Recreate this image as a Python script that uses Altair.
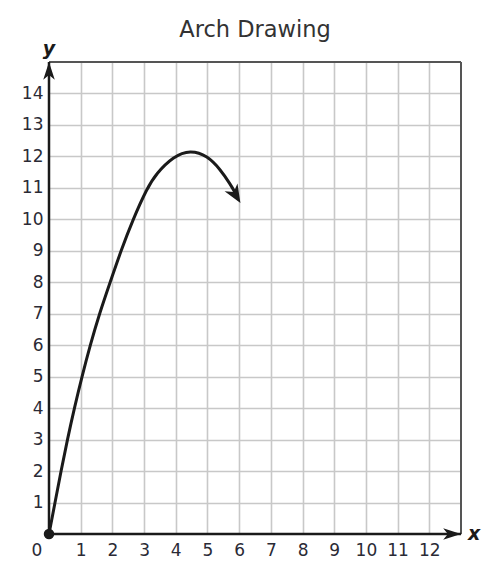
import altair as alt
import pandas as pd

# ---- data ----
curve_x = [0, 0.19, 0.38, 0.58, 0.80, 1.04, 1.30, 1.59, 1.93, 2.27, 2.65, 3.10, 3.38, 3.92, 4.46, 5.00, 5.41, 5.72, 5.90]
curve_y = [0, 1, 2, 3, 4, 5, 6, 7, 8, 9, 10, 11, 11.45, 12, 12.21, 12.02, 11.58, 11.12, 10.80]
arrow_tip_x = [6.04]
arrow_tip_y = [10.52]
arrow_angle = [149]
x_ticks = list(range(1, 13))
y_ticks = list(range(1, 15))
x_max = 13
y_max = 15

FONT = "DejaVu Sans"
LABEL_COLOR = "#2a2a35"

curve = pd.DataFrame({"x": curve_x, "y": curve_y, "i": list(range(len(curve_x)))})
border = pd.DataFrame({"x": [0, x_max], "y": [y_max, 0], "x2": [x_max, x_max], "y2": [y_max, y_max]})
axes_lines = pd.DataFrame({"x": [0, 0], "y": [0, 0], "x2": [x_max, 0], "y2": [0, y_max]})
axis_arrows = pd.DataFrame({"x": [x_max, 0], "y": [0, y_max], "a": [90, 0]})
curve_arrow = pd.DataFrame({"x": arrow_tip_x, "y": arrow_tip_y, "a": arrow_angle})
origin = pd.DataFrame({"x": [0], "y": [0]})
labels = pd.DataFrame({"x": [0, x_max, 0], "y": [0, 0, y_max], "t": ["0", "x", "y"]})

xs = alt.Scale(domain=[0, x_max], nice=False, zero=False)
ys = alt.Scale(domain=[0, y_max], nice=False, zero=False)

xaxis = alt.Axis(values=x_ticks, grid=True, ticks=False, domain=False, title=None,
                 labelPadding=8, labelFontSize=17, labelFont=FONT, labelColor=LABEL_COLOR,
                 gridColor="#c8c8c8", gridWidth=1.6, labelFlush=False)
yaxis = alt.Axis(values=y_ticks, grid=True, ticks=False, domain=False, title=None,
                 labelPadding=6, labelFontSize=17, labelFont=FONT, labelColor=LABEL_COLOR,
                 gridColor="#c8c8c8", gridWidth=1.6, labelFlush=False)


def X():
    return alt.X("x:Q", scale=xs, axis=xaxis)


def Y():
    return alt.Y("y:Q", scale=ys, axis=yaxis)


ARROW_AXIS = "M0,0L0.55,1.7L0,1.25L-0.55,1.7Z"
ARROW_CURVE = "M0,0L0.7,1.7L0,1.2L-0.7,1.7Z"

border_layer = alt.Chart(border).mark_rule(color="#555555", strokeWidth=2).encode(
    x=X(), y=Y(), x2="x2:Q", y2="y2:Q",
)

axes_layer = alt.Chart(axes_lines).mark_rule(color="#1a1a1a", strokeWidth=2.5).encode(
    x=X(), y=Y(), x2="x2:Q", y2="y2:Q",
)

axis_arrow_layer = alt.Chart(axis_arrows).mark_point(
    shape=ARROW_AXIS, filled=True, size=440, color="#1a1a1a", opacity=1, strokeWidth=0
).encode(
    x=X(), y=Y(), angle=alt.Angle("a:Q", scale=None),
)

curve_layer = alt.Chart(curve).mark_line(color="#1a1a1a", strokeWidth=3, interpolate="basis").encode(
    x=X(), y=Y(), order="i:Q",
)

curve_arrow_layer = alt.Chart(curve_arrow).mark_point(
    shape=ARROW_CURVE, filled=True, size=460, color="#1a1a1a", opacity=1, strokeWidth=0
).encode(
    x=X(), y=Y(), angle=alt.Angle("a:Q", scale=None),
)

origin_layer = alt.Chart(origin).mark_circle(size=110, color="#1a1a1a", opacity=1).encode(
    x=X(), y=Y(),
)

zero_label = alt.Chart(labels.iloc[[0]]).mark_text(
    font=FONT, fontSize=17, color=LABEL_COLOR, dx=-12, dy=17
).encode(x=X(), y=Y(), text="t:N")

x_label = alt.Chart(labels.iloc[[1]]).mark_text(
    font=FONT, fontSize=19, fontWeight="bold", fontStyle="italic", color="#1a1a1a", dx=13, dy=0
).encode(x=X(), y=Y(), text="t:N")

y_label = alt.Chart(labels.iloc[[2]]).mark_text(
    font=FONT, fontSize=19, fontWeight="bold", fontStyle="italic", color="#1a1a1a", dx=0, dy=-13
).encode(x=X(), y=Y(), text="t:N")

chart = alt.layer(
    border_layer, axes_layer, curve_layer, curve_arrow_layer, axis_arrow_layer,
    origin_layer, zero_label, x_label, y_label,
).properties(
    width=412,
    height=472,
    padding={"left": 41, "top": 54, "right": 30, "bottom": 36},
    autosize=alt.AutoSizeParams(type="none"),
    title=alt.Title("Arch Drawing", fontSize=22.5, font=FONT, fontWeight="normal",
                    color="#333333", frame="group", anchor="middle", offset=-1),
).configure_view(stroke=None).configure(background="white")

chart.save("out.html", embed_options={"renderer": "svg", "actions": False})
